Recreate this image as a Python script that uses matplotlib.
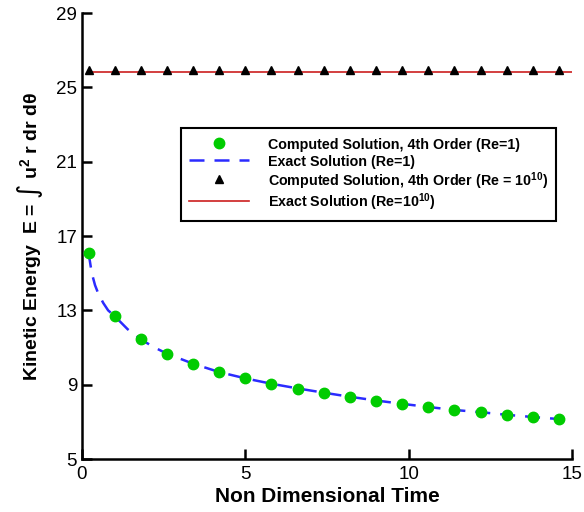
import matplotlib
matplotlib.use("Agg")
import matplotlib.pyplot as plt

plt.rcParams['font.family'] = ['Liberation Sans', 'DejaVu Sans']
plt.rcParams['mathtext.default'] = 'regular'

# computed solution sample times
t_pts = [0.2, 1.0, 1.8, 2.6, 3.4, 4.2, 5.0, 5.8, 6.6, 7.4, 8.2, 9.0, 9.8,
         10.6, 11.4, 12.2, 13.0, 13.8, 14.6]
# Re = 1, computed (4th order)
e_re1 = [16.10, 12.69, 11.44, 10.67, 10.13, 9.68, 9.34, 9.05, 8.78, 8.57,
         8.35, 8.13, 7.97, 7.81, 7.63, 7.53, 7.38, 7.26, 7.15]
# Re = 1, exact
t_exact = [0.2, 0.3, 0.4, 0.5, 0.65, 0.8, 1.0, 1.4, 1.8, 2.2, 2.6, 3.4, 4.2,
           5.0, 5.8, 6.6, 7.4, 8.2, 9.0, 9.8, 10.6, 11.4, 12.2, 13.0, 13.8,
           14.6, 15.0]
e_exact = [16.10, 15.00, 14.35, 13.90, 13.40, 13.00, 12.69, 11.98, 11.44,
           11.02, 10.67, 10.13, 9.68, 9.34, 9.05, 8.80, 8.57, 8.35, 8.15,
           7.97, 7.80, 7.64, 7.52, 7.38, 7.26, 7.15, 7.10]
# Re = 1e10
e_re10 = [25.95] * len(t_pts)
t_line = [0.2, 15.0]
e_line = [25.83, 25.83]

fig = plt.figure(figsize=(5.84, 5.12), dpi=100)
ax = fig.add_axes([0.1404, 0.1035, 0.839, 0.871])

ax.plot(t_exact, e_exact, color='#2b2bff', lw=1.8, dashes=(6, 4),
        label='Exact Solution (Re=1)', zorder=2)
ax.plot(t_pts, e_re1, 'o', color='#00cc00', ms=7.5, mec='#00cc00',
        label='Computed Solution, 4th Order (Re=1)', zorder=3)
ax.plot(t_line, e_line, color='#cc1f1f', lw=1.2,
        label='Exact Solution (Re=10$^{10}$)', zorder=2)
ax.plot(t_pts, e_re10, '^', color='black', ms=5.5,
        label='Computed Solution, 4th Order (Re = 10$^{10}$)', zorder=3)

ax.set_xlim(0, 15)
ax.set_ylim(5, 29)
ax.set_xticks([0, 5, 10, 15])
ax.set_yticks([5, 9, 13, 17, 21, 25, 29])
ax.tick_params(direction='in', length=7, width=1.8, labelsize=13.5)
ax.tick_params(axis='x', pad=5)
ax.spines['top'].set_visible(False)
ax.spines['right'].set_visible(False)
ax.spines['left'].set_linewidth(1.8)
ax.spines['bottom'].set_linewidth(1.8)

ax.set_xlabel('Non Dimensional Time', fontsize=15, fontweight='bold',
              labelpad=3)
ax.set_ylabel('Kinetic Energy  E = \u222b u$^2$ r dr d\u03b8', fontsize=14,
              fontweight='bold', labelpad=8)

h, l = ax.get_legend_handles_labels()
order = [1, 0, 3, 2]
leg = ax.legend([h[i] for i in order], [l[i] for i in order],
                loc='upper left', bbox_to_anchor=(0.202, 0.742),
                borderaxespad=0, fancybox=False, framealpha=1,
                edgecolor='black', handlelength=4.2, handletextpad=1.35,
                handleheight=1.45, labelspacing=0.0, borderpad=0.55,
                prop={'weight': 'bold', 'size': 10.3})
leg.get_frame().set_linewidth(1.5)

fig.savefig('out.png', dpi=100)
